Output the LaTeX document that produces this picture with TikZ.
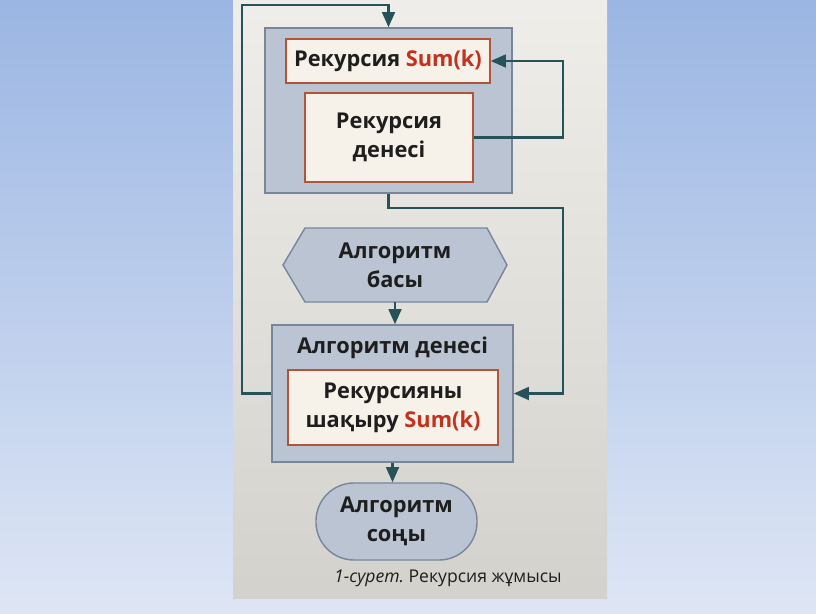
\documentclass[tikz,border=0pt]{standalone}
\usepackage{fontspec}
\setmainfont{Open Sans}
\usetikzlibrary{arrows.meta}
\definecolor{fonhaut}{RGB}{155,182,227}
\definecolor{fonbas}{RGB}{222,230,245}
\definecolor{papier}{RGB}{232,230,224}
\definecolor{gris}{RGB}{186,196,211}
\definecolor{grisbord}{RGB}{120,134,155}
\definecolor{creme}{RGB}{246,241,233}
\definecolor{brique}{RGB}{178,84,58}
\definecolor{petrole}{RGB}{38,82,90}
\definecolor{rouge}{RGB}{196,50,30}
\definecolor{encre}{RGB}{30,30,30}

\tikzset{
  bloc/.style={draw=grisbord, fill=gris, line width=1pt},
  texte/.style={text=encre, font=\fontsize{15.5}{20.5}\selectfont\bfseries, align=center},
  cadre/.style={draw=brique, fill=creme, line width=1pt, texte},
  flux/.style={petrole, line width=1.7pt, -{Triangle[length=3.8mm,width=3.2mm]}},
}

\begin{document}
\frenchspacing
\begin{tikzpicture}[x=0.025cm,y=-0.025cm]
\shade [top color=fonhaut, bottom color=fonbas] (0,0) rectangle (816,613);
\shade [top color=papier!70!white, bottom color=papier!80!gray] (233,0) rectangle (607,598);

% recursion block
\node (topbox) [bloc, minimum width=6.175cm, minimum height=4.125cm] at (388.5,110.5) {};
\node (sumk) [cadre, minimum width=5.1cm, minimum height=1.1cm] at (388,61) {Рекурсия \textcolor{rouge}{Sum(k)}};
\node (body) [cadre, minimum width=4.2cm, minimum height=2.225cm] at (389,137.5) {Рекурсия\\денесі};

% start
\filldraw [bloc] (283,265) -- (305,228) -- (487,228) -- (507,265) -- (487,302) -- (305,302) -- cycle;
\node (start) [texte, minimum height=1.85cm] at (395,265) {Алгоритм\\басы};

% algorithm block
\node (mainbox) [bloc, minimum width=6.025cm, minimum height=3.425cm] at (392.5,393.5) {};
\node (bodytitle) [texte] at (392.5,348) {Алгоритм денесі};
\node (call) [cadre, minimum width=5.25cm, minimum height=1.875cm] at (393,407.5) {Рекурсияны\\шақыру \textcolor{rouge}{Sum(k)}};

% end
\node (finish) [bloc, texte, rounded corners=0.95cm, minimum width=4.025cm, minimum height=1.925cm] at (396.5,521.5) {Алгоритм\\соңы};

\node (caption) [text=encre, font=\fontsize{12.5}{16}\selectfont] at (448,578) {\textit{1-сурет.} Рекурсия жұмысы};

% connectors
\coordinate (lt) at (242,5);
\coordinate (rt) at (563,61);
\coordinate (rb) at (563,208);
\draw [flux] (mainbox.west) -| (lt) -| (topbox.north);
\draw [flux] (body.east) -| (rt) -- (sumk.east);
\draw [flux] (topbox.south) |- (rb) |- (mainbox.east);
\draw [flux] (start.south) -- (start.south |- mainbox.north);
\draw [flux] (mainbox.south) -- (mainbox.south |- finish.north);

\end{tikzpicture}
\end{document}
